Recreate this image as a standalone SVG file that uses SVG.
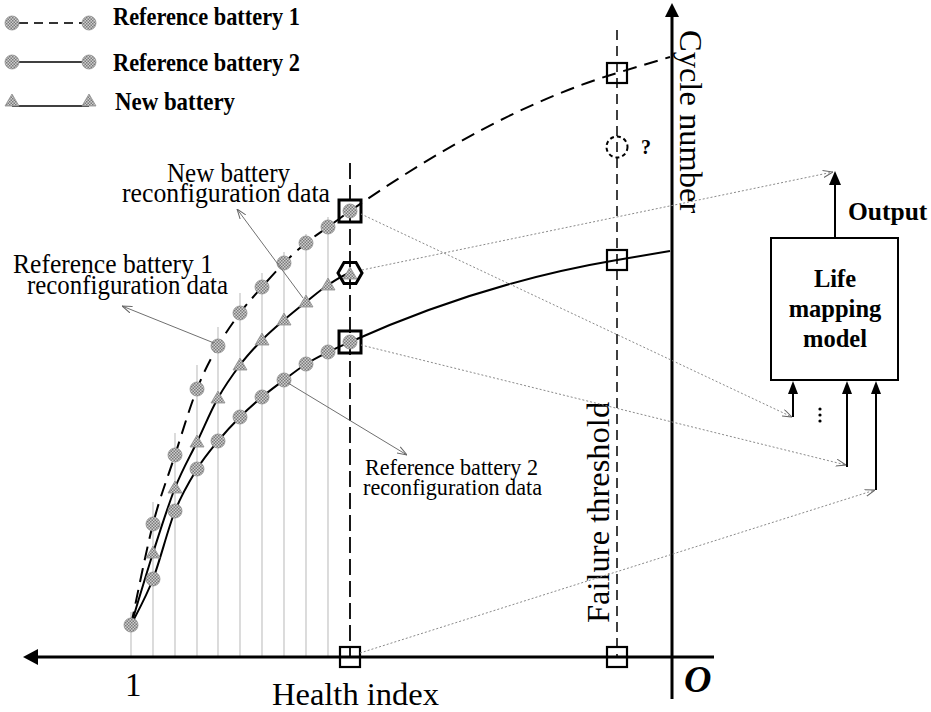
<svg xmlns="http://www.w3.org/2000/svg" width="931" height="712" viewBox="0 0 931 712">
<style>
.t{font-family:"Liberation Serif","Times New Roman",serif;fill:#000}
.b{font-weight:bold}
.grid{stroke:#c4c4c4;stroke-width:1.2}
.pt{fill:url(#hatch);stroke:#8f8f8f;stroke-width:0.8}
.curve{fill:none;stroke:#000;stroke-width:2}
.dash1{stroke-dasharray:14 8}
.lbl{fill:none;stroke:#707070;stroke-width:1}
.dot{fill:none;stroke:#8a8a8a;stroke-width:1;stroke-dasharray:2 2}
.sq{fill:none;stroke:#000;stroke-width:2.2}
.sqb{fill:none;stroke:#000;stroke-width:3}
.ax{stroke:#000;stroke-width:3;fill:none}
.arr{stroke:#000;stroke-width:2;fill:none}
</style>
<defs>
<pattern id="hatch" width="3" height="3" patternUnits="userSpaceOnUse">
<rect width="3" height="3" fill="#cfcfcf"/>
<rect width="1.5" height="1.5" fill="#7a7a7a"/>
<rect x="1.5" y="1.5" width="1.5" height="1.5" fill="#7a7a7a"/>
</pattern>
<marker id="open" viewBox="0 0 10 8" refX="10" refY="4" markerWidth="10" markerHeight="8" markerUnits="userSpaceOnUse" orient="auto">
<path d="M0,0.5 L10,4 L0,7.5" fill="none" stroke="#666" stroke-width="1"/>
</marker>
<circle id="c" r="7" class="pt"/>
<path id="tri" d="M0,-7 L7,5 L-7,5 Z" class="pt"/>
</defs>

<g id="legend">
<line x1="19" y1="23" x2="82" y2="23" stroke="#333" stroke-width="2" stroke-dasharray="9 6"/>
<use href="#c" x="12" y="23"/><use href="#c" x="89" y="23"/>
<text class="t b" x="113" y="25" font-size="24.5" textLength="187" lengthAdjust="spacingAndGlyphs">Reference battery 1</text>
<line x1="19" y1="62" x2="82" y2="62" stroke="#000" stroke-width="1.5"/>
<use href="#c" x="12" y="62"/><use href="#c" x="89" y="62"/>
<text class="t b" x="113" y="71" font-size="24.5" textLength="187" lengthAdjust="spacingAndGlyphs">Reference battery 2</text>
<line x1="12" y1="106" x2="89" y2="106" stroke="#000" stroke-width="1.5"/>
<use href="#tri" x="12" y="101"/><use href="#tri" x="89" y="101"/>
<text class="t b" x="115" y="110" font-size="24.5" textLength="120" lengthAdjust="spacingAndGlyphs">New battery</text>
</g>

<g id="grid-lines">
<line class="grid" x1="131" y1="612" x2="131" y2="657"/>
<line class="grid" x1="153" y1="502" x2="153" y2="657"/>
<line class="grid" x1="175" y1="433" x2="175" y2="657"/>
<line class="grid" x1="197" y1="365" x2="197" y2="657"/>
<line class="grid" x1="218" y1="327" x2="218" y2="657"/>
<line class="grid" x1="240" y1="293" x2="240" y2="657"/>
<line class="grid" x1="262" y1="273" x2="262" y2="657"/>
<line class="grid" x1="284" y1="252" x2="284" y2="657"/>
<line class="grid" x1="306" y1="234" x2="306" y2="657"/>
<line class="grid" x1="328" y1="217" x2="328" y2="657"/>
</g>

<g id="axes">
<line x1="350" y1="163" x2="350" y2="657" stroke="#000" stroke-width="1.8" stroke-dasharray="16 6"/>
<line x1="617" y1="30" x2="617" y2="657" stroke="#000" stroke-width="1.5" stroke-dasharray="10 6"/>
<line class="ax" x1="714" y1="657" x2="36" y2="657"/>
<polygon points="23,657 38,649 38,665" fill="#000"/>
<line class="ax" x1="672" y1="699" x2="672" y2="15"/>
<polygon points="672,3 665,17 679,17" fill="#000"/>
<text class="t" x="125" y="696" font-size="33">1</text>
<text class="t" x="272" y="705" font-size="32.5">Health index</text>
<text class="t b" x="684" y="692" font-size="38" font-style="italic">O</text>
<text class="t" transform="translate(680,30) rotate(90)" font-size="32.5">Cycle number</text>
<text class="t" transform="translate(609,623) rotate(-90)" font-size="32.5">Failure threshold</text>
</g>

<g id="curves">
<path class="curve dash1" stroke-width="2.2" d="M131,625 C134.7,608.2 145.7,552.3 153,524 C160.3,495.7 167.7,477.5 175,455 C182.3,432.5 189.8,407.2 197,389 C204.2,370.8 210.8,358.7 218,346 C225.2,333.3 232.7,322.8 240,313 C247.3,303.2 254.7,295.3 262,287 C269.3,278.7 276.7,270.3 284,263 C291.3,255.7 298.7,249 306,243 C313.3,237 320.7,232.3 328,227 C335.3,221.7 342.7,216.3 350,211 C439,149 528,100 617,73 L670,57"/>
<path class="curve" d="M131,625 C134.7,617.3 145.7,598 153,579 C160.3,560 167.7,529.3 175,511 C182.3,492.7 189.8,480.7 197,469 C204.2,457.3 210.8,449.7 218,441 C225.2,432.3 232.7,424.3 240,417 C247.3,409.7 254.7,403.2 262,397 C269.3,390.8 276.7,385.5 284,380 C291.3,374.5 298.7,368.7 306,364 C313.3,359.3 320.7,355.7 328,352 C335.3,348.3 342.7,345.3 350,342 C439,302 528,275 617,260 L670,251"/>
<path class="curve" d="M131,625 C134.7,613 145.7,575.8 153,553 C160.3,530.2 167.7,506.5 175,488 C182.3,469.5 189.8,457 197,442 C204.2,427 210.8,410.8 218,398 C225.2,385.2 232.7,374.7 240,365 C247.3,355.3 254.7,347.5 262,340 C269.3,332.5 276.7,326.3 284,320 C291.3,313.7 298.7,307.8 306,302 C313.3,296.2 320.7,289.8 328,285 C335.3,280.2 342.7,275 350,273"/>
</g>

<g id="ref1-points">
<use href="#c" x="131" y="625"/><use href="#c" x="153" y="524"/><use href="#c" x="175" y="455"/><use href="#c" x="197" y="389"/><use href="#c" x="218" y="346"/><use href="#c" x="240" y="313"/><use href="#c" x="262" y="287"/><use href="#c" x="284" y="263"/><use href="#c" x="306" y="243"/><use href="#c" x="328" y="227"/><use href="#c" x="350" y="211"/>
</g>
<g id="ref2-points">
<use href="#c" x="153" y="579"/><use href="#c" x="175" y="511"/><use href="#c" x="197" y="469"/><use href="#c" x="218" y="441"/><use href="#c" x="240" y="417"/><use href="#c" x="262" y="397"/><use href="#c" x="284" y="380"/><use href="#c" x="306" y="364"/><use href="#c" x="328" y="352"/><use href="#c" x="350" y="342"/>
</g>
<g id="new-points">
<use href="#tri" x="153" y="553"/><use href="#tri" x="175" y="488"/><use href="#tri" x="197" y="442"/><use href="#tri" x="218" y="398"/><use href="#tri" x="240" y="365"/><use href="#tri" x="262" y="340"/><use href="#tri" x="284" y="320"/><use href="#tri" x="306" y="302"/><use href="#tri" x="328" y="285"/><use href="#tri" x="350" y="274"/>
</g>

<g id="key-markers">
<rect class="sqb" x="339" y="200" width="22" height="22"/>
<polygon class="sqb" stroke-width="2.6" points="338,273 344,262.6 356,262.6 362,273 356,283.4 344,283.4"/>
<rect class="sqb" x="339" y="331" width="22" height="22"/>
<rect class="sq" x="340" y="647" width="20" height="20"/>
<rect class="sq" x="607" y="63" width="20" height="20"/>
<circle cx="617" cy="147" r="10.5" fill="none" stroke="#000" stroke-width="2" stroke-dasharray="4 3"/>
<text class="t b" x="641" y="154" font-size="20">?</text>
<rect class="sq" x="607" y="250" width="20" height="20"/>
<rect class="sq" x="607" y="647" width="20" height="20"/>
</g>

<g id="labels">
<text class="t" x="167" y="182" font-size="26.5" textLength="123" lengthAdjust="spacingAndGlyphs">New battery</text>
<text class="t" x="122" y="202" font-size="26.5" textLength="208" lengthAdjust="spacingAndGlyphs">reconfiguration data</text>
<text class="t" x="13" y="273" font-size="26.5" textLength="200" lengthAdjust="spacingAndGlyphs">Reference battery 1</text>
<text class="t" x="27" y="294" font-size="26.5" textLength="201" lengthAdjust="spacingAndGlyphs">reconfiguration data</text>
<text class="t" x="365" y="475" font-size="23" textLength="173" lengthAdjust="spacingAndGlyphs">Reference battery 2</text>
<text class="t" x="363" y="495" font-size="23" textLength="179" lengthAdjust="spacingAndGlyphs">reconfiguration data</text>
</g>

<g id="life-mapping-model">
<rect x="771" y="238" width="127" height="142" fill="#fff" stroke="#000" stroke-width="2"/>
<text class="t b" x="835" y="287" font-size="24.5" text-anchor="middle">Life</text>
<text class="t b" x="835" y="317" font-size="24.5" text-anchor="middle">mapping</text>
<text class="t b" x="835" y="347" font-size="24.5" text-anchor="middle">model</text>
<text class="t b" x="848" y="220" font-size="25.5">Output</text>
</g>

<g id="connectors">
<line class="lbl" x1="214" y1="343" x2="122" y2="306" marker-end="url(#open)"/>
<line class="lbl" x1="303" y1="298" x2="237" y2="209" marker-end="url(#open)"/>
<line class="lbl" x1="288" y1="383" x2="407" y2="455" marker-end="url(#open)"/>
<line class="dot" x1="361" y1="214" x2="792" y2="417" marker-end="url(#open)"/>
<line class="dot" x1="362" y1="270" x2="833" y2="172" marker-end="url(#open)"/>
<line class="dot" x1="361" y1="345" x2="846" y2="465" marker-end="url(#open)"/>
<line class="dot" x1="360" y1="653" x2="875" y2="490" marker-end="url(#open)"/>
<line class="arr" x1="835" y1="238" x2="835" y2="183"/>
<polygon points="835,171 829,185 841,185" fill="#000"/>
<line class="arr" x1="793" y1="417" x2="793" y2="392"/>
<polygon points="793,381 788,394 798,394" fill="#000"/>
<line class="arr" x1="847" y1="467" x2="847" y2="392"/>
<polygon points="847,381 842,394 852,394" fill="#000"/>
<line class="arr" x1="876" y1="490" x2="876" y2="392"/>
<polygon points="876,381 871,394 881,394" fill="#000"/>
<circle cx="820" cy="409" r="1.6"/><circle cx="820" cy="415" r="1.6"/><circle cx="820" cy="421" r="1.6"/>
</g>
</svg>
